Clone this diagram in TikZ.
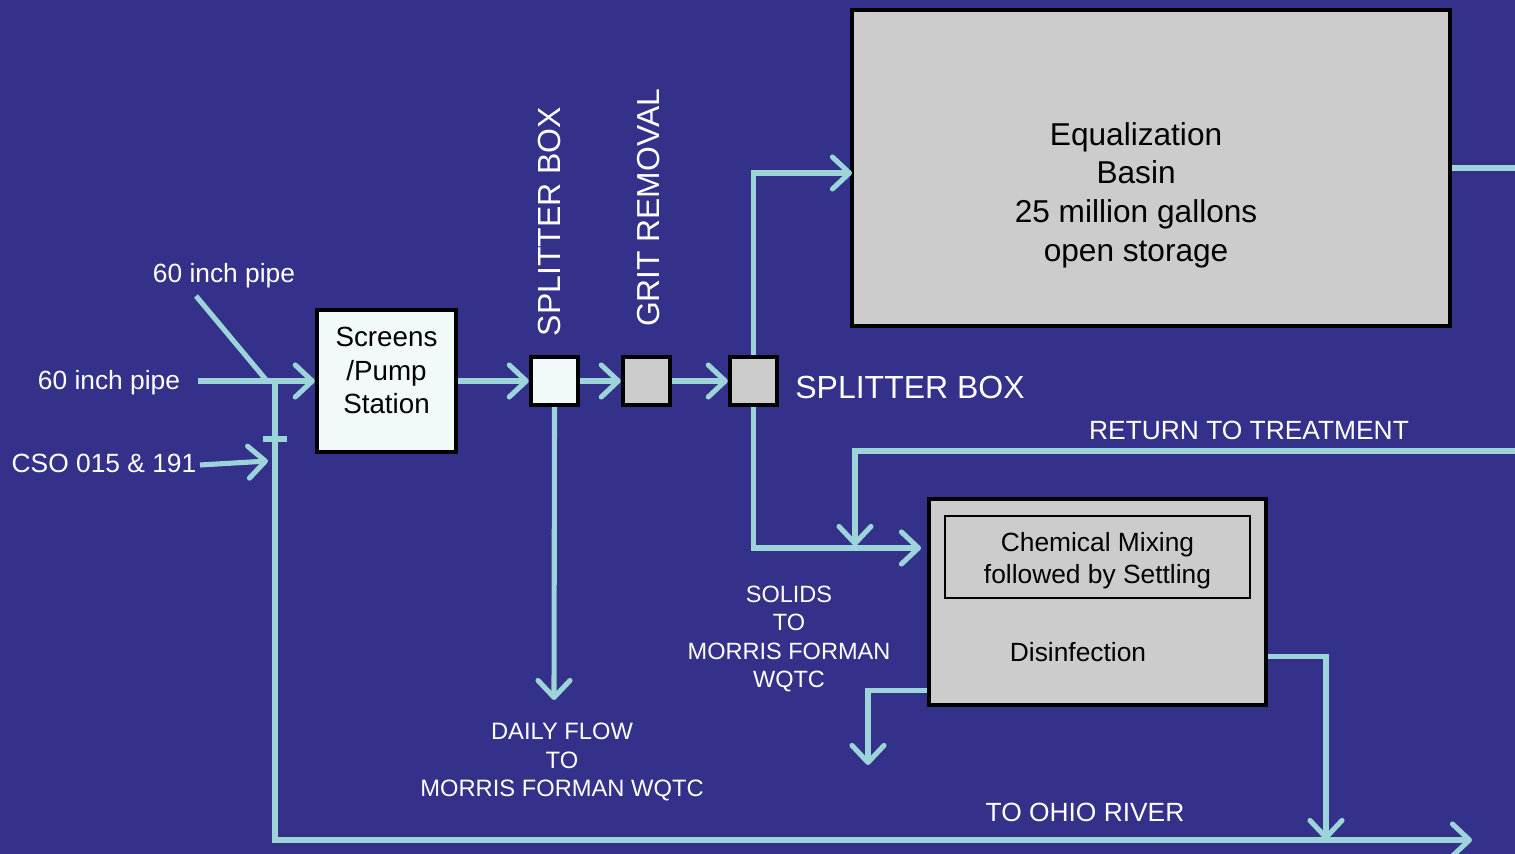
\documentclass[tikz,border=0pt]{standalone}
\usepackage{fontspec}
\setmainfont{Liberation Sans}
\usetikzlibrary{arrows.meta,calc}
\definecolor{bgblue}{HTML}{333189}
\definecolor{pipe}{HTML}{9DD4D9}
\definecolor{boxgray}{HTML}{CCCCCC}
\definecolor{boxlight}{HTML}{F2F9F9}
\tikzset{
  flow/.style={draw=pipe,line width=2.9pt,line cap=butt},
  flowarrow/.style={flow,-{Straight Barb[length=3.4mm,width=6.4mm,round]}},
  unit/.style={draw=black,line width=2.5pt,inner sep=0pt,align=center,text=black},
  inner/.style={draw=black,line width=0.7pt,inner sep=0pt,align=center,text=black},
  lab/.style={text=white,align=center,inner sep=0pt},
  boxtext/.style={text=black,align=center,inner sep=0pt},
}
\newcommand{\fs}[2]{\fontsize{#1}{#2}\selectfont}
\begin{document}
\begin{tikzpicture}[x=0.02cm,y=-0.02cm]
\fill[bgblue] (0,0) rectangle (1515,854);
\useasboundingbox (0,0) rectangle (1515,854);

% boxes
\node[unit,fill=boxgray,minimum width=11.96cm,minimum height=6.32cm,
  label={[boxtext,font=\fs{18}{22.1},xshift=-8.5pt,yshift=-15.5pt]center:{Equalization\\Basin\\25 million gallons\\open storage}}] (eq) at (1151,168) {};
\node[unit,fill=boxlight,minimum width=2.78cm,minimum height=2.84cm,
  label={[boxtext,font=\fs{15.8}{19.3},yshift=6pt]center:{Screens\\/Pump\\Station}}] (scr) at (386.5,381) {};
\node[unit,fill=boxlight,minimum width=0.94cm,minimum height=0.96cm] (sp1) at (554.5,381) {};
\node[unit,fill=boxgray,minimum width=0.94cm,minimum height=0.96cm] (grit) at (646.5,381) {};
\node[unit,fill=boxgray,minimum width=0.94cm,minimum height=0.96cm] (sp2) at (753.5,381) {};
\node[unit,fill=boxgray,minimum width=6.74cm,minimum height=4.12cm] (chem) at (1097.5,602) {};
\node[inner,minimum width=6.1cm,minimum height=1.64cm,
  label={[boxtext,font=\fs{15}{18.3},yshift=-2pt]center:{Chemical Mixing\\followed by Settling}}] (mix) at (1097.5,557) {};
\node[boxtext,font=\fs{15}{18}] (dis) at (1078,652) {Disinfection};

% labels
\node[lab,font=\fs{15}{18}] (p1) at (224,276) {60 inch pipe};
\node[lab,font=\fs{15}{18}] (p2) at (109,383) {60 inch pipe};
\node[lab,font=\fs{15}{18}] (cso) at (104,463) {CSO 015 \& 191};
\node[lab,font=\fs{18.2}{21},rotate=90] (tsp1) at (549,221.5) {SPLITTER BOX};
\node[lab,font=\fs{18.1}{21},rotate=90] (tgrit) at (649,208) {GRIT REMOVAL};
\node[lab,font=\fs{18.2}{21}] (tsp2) at (910,387) {SPLITTER BOX};
\node[lab,font=\fs{15}{18}] (tret) at (1249,430) {RETURN TO TREATMENT};
\node[lab,font=\fs{13.4}{16.3}] (tsol) at (789,639) {SOLIDS\\TO\\MORRIS FORMAN\\WQTC};
\node[lab,font=\fs{13.5}{16.2}] (tdaily) at (562,762) {DAILY FLOW\\TO\\MORRIS FORMAN WQTC};
\node[lab,font=\fs{15}{18}] (triver) at (1085,812) {TO OHIO RIVER};

% free ends
\coordinate (diagstart) at (196,296);
\coordinate (junction) at (267,381);
\coordinate (pipestart) at (198,381);
\coordinate (csostart) at (200,465);
\coordinate (csoend) at (268,461);
\coordinate (bypass) at (275,381);
\coordinate (riverend) at (1472,840);
\coordinate (dailyend) at (554,700);
\coordinate (eqin) at (852,173);
\coordinate (chemin) at (921,548);
\coordinate (retstart) at (1515,451);
\coordinate (retend) at (855,546);
\coordinate (eqout) at (1515,168);
\coordinate (solidsend) at (868,765);
\coordinate (riverjoin) at (1326,840);

% connectors
\draw[flow] (diagstart) -- (junction);
\draw[flowarrow] (pipestart) -- (scr.west);
\draw[flowarrow] (csostart) -- (csoend);
\draw[flowarrow] (bypass) |- (riverend);
\draw[flow] (263,439) -- (287,439);
\draw[flowarrow] (scr.east) -- (sp1.west);
\draw[flowarrow] (sp1.east) -- (grit.west);
\draw[flowarrow] (grit.east) -- (sp2.west);
\draw[flowarrow] (sp1.south) -- (dailyend);
\draw[flowarrow] (sp2.north) |- (eqin);
\draw[flowarrow] (sp2.south) |- (chemin);
\draw[flowarrow] (retstart) -| (retend);
\draw[flow] (eq.east) -- (eqout);
\draw[flowarrow] ($(chem.south west)+(0,-17)$) -| (solidsend);
\draw[flowarrow] ($(chem.south east)+(0,-51)$) -| (riverjoin);
\end{tikzpicture}
\end{document}
